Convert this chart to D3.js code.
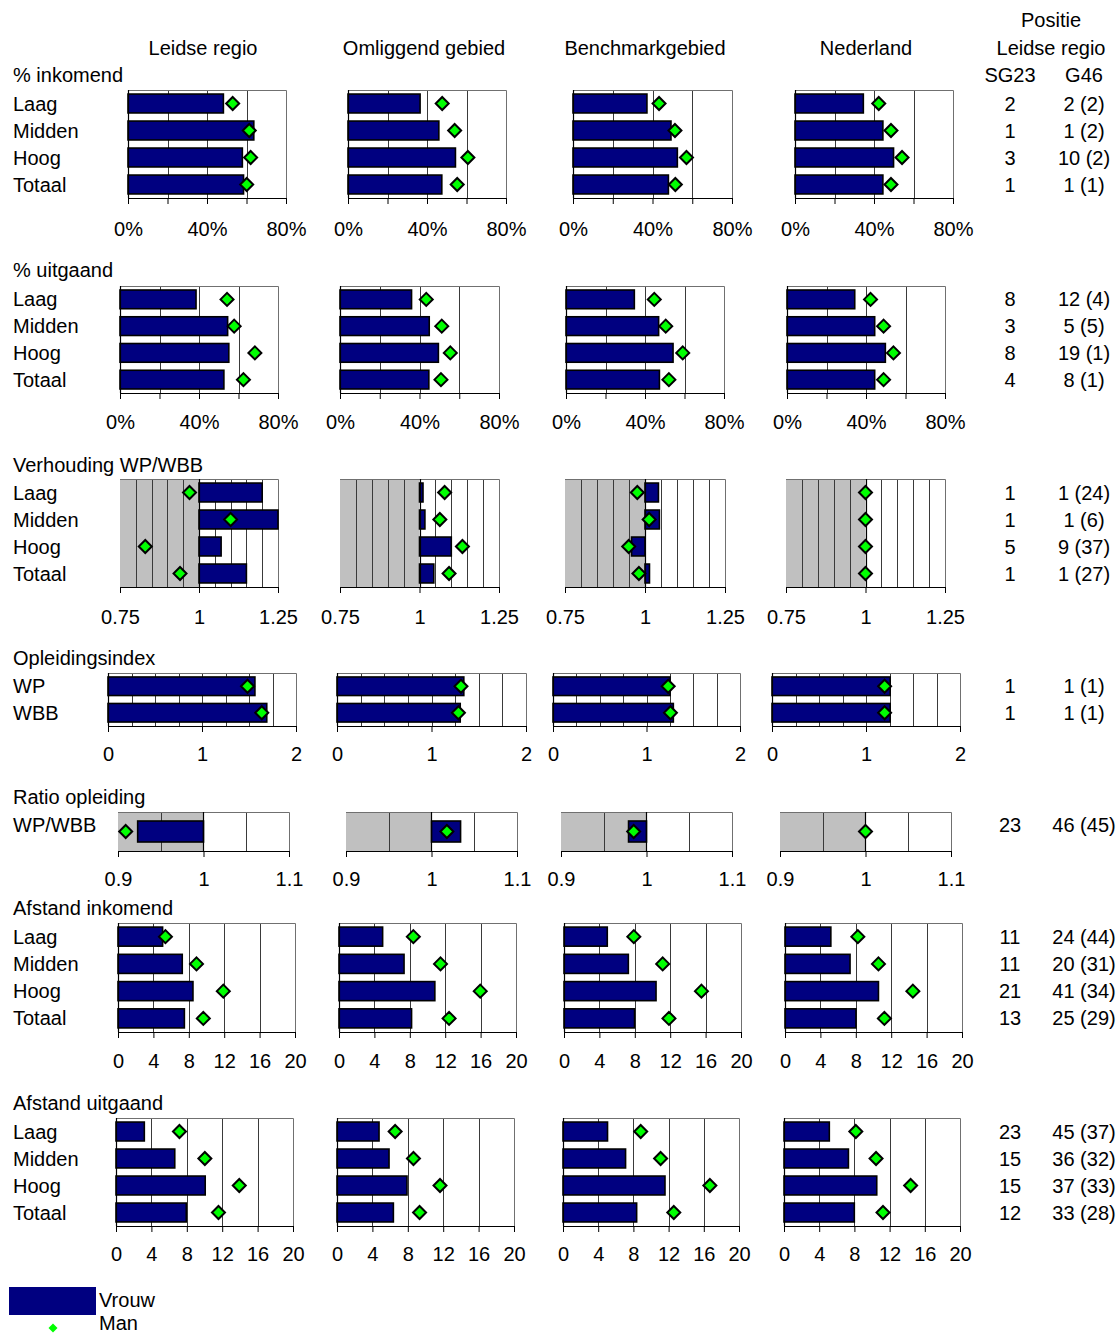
<!DOCTYPE html>
<html><head><meta charset="utf-8">
<script src="https://cdn.jsdelivr.net/npm/d3@7"></script>
<style>
body{margin:0;background:#fff}
svg text{font-family:Arial,"Liberation Sans",sans-serif;font-size:20px;fill:#000}
</style>
</head><body><svg id="c" width="1119" height="1335"></svg>
<script>
// ---------- DATA ----------
const panelNames = ["Leidse regio","Omliggend gebied","Benchmarkgebied","Nederland"];
const levelCats = ["Laag","Midden","Hoog","Totaal"];
const indexCats = ["WP","WBB"];
const ratioCats = ["WP/WBB"];

const inkomendVrouw = [[48.3,63.7,57.9,58.5],[36.5,46.0,54.4,47.5],[37.2,49.3,52.5,48.0],[34.6,44.5,49.9,44.5]];
const inkomendMan   = [[53.0,61.4,62.1,60.1],[47.7,54.0,60.7,55.3],[43.3,51.3,57.1,51.5],[42.4,48.6,54.2,48.6]];
const uitgaandVrouw = [[38.5,54.5,55.1,52.6],[36.0,44.9,49.5,44.7],[34.6,46.9,54.2,47.3],[34.3,44.4,49.8,44.4]];
const uitgaandMan   = [[54.2,57.8,68.3,62.5],[43.4,51.2,55.5,50.8],[44.7,50.5,59.1,52.1],[42.3,48.9,53.9,48.9]];
const verhoudingVrouw = [[1.20,1.25,1.07,1.15],[1.011,1.017,1.10,1.045],[1.042,1.045,0.958,1.014],[1,1,1,1]];
const verhoudingMan   = [[0.97,1.10,0.83,0.94],[1.079,1.064,1.135,1.093],[0.976,1.013,0.949,0.981],[1,1,1,1]];
const opleidingVrouw = [[1.563,1.689],[1.342,1.304],[1.252,1.287],[1.257,1.257]];
const opleidingMan   = [[1.484,1.636],[1.312,1.285],[1.232,1.256],[1.198,1.198]];
const ratioVrouw = [[0.923],[1.034],[0.979],[1.0]];
const ratioMan   = [[0.909],[1.018],[0.985],[1.0]];
const afstandInVrouw = [[5.04,7.26,8.47,7.5],[4.93,7.35,10.83,8.2],[4.89,7.27,10.4,7.97],[5.18,7.35,10.56,8.02]];
const afstandInMan   = [[5.36,8.87,11.9,9.64],[8.4,11.47,15.96,12.44],[7.89,11.15,15.53,11.86],[8.23,10.56,14.45,11.23]];
const afstandUitVrouw = [[3.2,6.64,10.08,7.94],[4.75,5.88,7.91,6.37],[5.06,7.11,11.59,8.37],[5.15,7.32,10.54,7.99]];
const afstandUitMan   = [[7.17,10.04,13.93,11.58],[6.57,8.64,11.64,9.33],[8.83,11.09,16.69,12.59],[8.16,10.46,14.39,11.25]];

const inkomendSG23 = ["2","1","3","1"],   inkomendG46 = ["2 (2)","1 (2)","10 (2)","1 (1)"];
const uitgaandSG23 = ["8","3","8","4"],   uitgaandG46 = ["12 (4)","5 (5)","19 (1)","8 (1)"];
const verhoudingSG23 = ["1","1","5","1"], verhoudingG46 = ["1 (24)","1 (6)","9 (37)","1 (27)"];
const opleidingSG23 = ["1","1"],          opleidingG46 = ["1 (1)","1 (1)"];
const ratioSG23 = ["23"],                 ratioG46 = ["46 (45)"];
const afstandInSG23 = ["11","11","21","13"],  afstandInG46 = ["24 (44)","20 (31)","41 (34)","25 (29)"];
const afstandUitSG23 = ["23","15","15","12"], afstandUitG46 = ["45 (37)","36 (32)","37 (33)","33 (28)"];

const pctTicks = [0,20,40,60,80], pctLabels = [0,40,80], pctGrid = [20,40,60];
const verhTicks = [0.75,1,1.25], verhGrid = [0.8,0.85,0.9,0.95,1,1.05,1.1,1.15,1.2];
const oplTicks = [0,1,2], oplGrid = [0.25,0.5,0.75,1,1.25,1.5,1.75];
const ratioTicks = [0.9,1,1.1], ratioGrid = [0.95,1,1.05];
const kmTicks = [0,4,8,12,16,20], kmGrid = [4,8,12,16];

// ---------- LAYOUT ----------
const sections = [
 {label:"% inkomend", cats:levelCats, vrouw:inkomendVrouw, man:inkomendMan, sg:inkomendSG23, g:inkomendG46,
  domain:[0,80], ticks:pctTicks, labels:pctLabels, grid:pctGrid, fmt:d=>d+"%", base:0,
  xs:[[128,286],[348,506],[573,732],[795,953]], top:90, bottom:198, labelY:75, tp:18},
 {label:"% uitgaand", cats:levelCats, vrouw:uitgaandVrouw, man:uitgaandMan, sg:uitgaandSG23, g:uitgaandG46,
  domain:[0,80], ticks:pctTicks, labels:pctLabels, grid:pctGrid, fmt:d=>d+"%", base:0,
  xs:[[120,278],[340,499],[566,724],[787,945]], top:286, bottom:393, labelY:270, tp:16},
 {label:"Verhouding WP/WBB", cats:levelCats, vrouw:verhoudingVrouw, man:verhoudingMan, sg:verhoudingSG23, g:verhoudingG46,
  domain:[0.75,1.25], ticks:verhTicks, labels:verhTicks, grid:verhGrid, fmt:d=>String(d), base:1, shade:[0.75,1],
  xs:[[120,278],[340,499],[565,725],[786,945]], top:479, bottom:587, labelY:465, tp:17},
 {label:"Opleidingsindex", cats:indexCats, vrouw:opleidingVrouw, man:opleidingMan, sg:opleidingSG23, g:opleidingG46,
  domain:[0,2], ticks:oplTicks, labels:oplTicks, grid:oplGrid, fmt:d=>String(d), base:0,
  xs:[[108,296],[337,526],[553,740],[772,960]], top:673, bottom:726, labelY:658, tp:15},
 {label:"Ratio opleiding", cats:ratioCats, vrouw:ratioVrouw, man:ratioMan, sg:ratioSG23, g:ratioG46,
  domain:[0.9,1.1], ticks:ratioTicks, labels:ratioTicks, grid:ratioGrid, fmt:d=>String(d), base:1, shade:[0.9,1],
  xs:[[118,289],[346,517],[561,732],[780,951]], top:812, bottom:851, labelY:797, pad:[0.3,0.3], textY:825, tp:15},
 {label:"Afstand inkomend", cats:levelCats, vrouw:afstandInVrouw, man:afstandInMan, sg:afstandInSG23, g:afstandInG46,
  domain:[0,20], ticks:kmTicks, labels:kmTicks, grid:kmGrid, fmt:d=>String(d), base:0,
  xs:[[118,295],[339,516],[564,741],[785,962]], top:923, bottom:1032, labelY:908, tp:16},
 {label:"Afstand uitgaand", cats:levelCats, vrouw:afstandUitVrouw, man:afstandUitMan, sg:afstandUitSG23, g:afstandUitG46,
  domain:[0,20], ticks:kmTicks, labels:kmTicks, grid:kmGrid, fmt:d=>String(d), base:0,
  xs:[[116,293],[337,514],[563,739],[784,960]], top:1118, bottom:1226, labelY:1103, tp:15}
];

const NAVY = "#000080", GREEN = "#00FF00", GRAY = "#C0C0C0";
const svg = d3.select("#c");
const TXT = 7; // baseline offset from visual centre
const diamond = s => `M0,${-s}L${s},0L0,${s}L${-s},0Z`;

// headers
const headerX = [203,424,645,866];
panelNames.forEach((n,i)=> svg.append("text").attr("x",headerX[i]).attr("y",48+TXT).attr("text-anchor","middle").text(n));
svg.append("text").attr("x",1051).attr("y",20+TXT).attr("text-anchor","middle").text("Positie");
svg.append("text").attr("x",1051).attr("y",48+TXT).attr("text-anchor","middle").text("Leidse regio");
svg.append("text").attr("x",1010).attr("y",75+TXT).attr("text-anchor","middle").text("SG23");
svg.append("text").attr("x",1084).attr("y",75+TXT).attr("text-anchor","middle").text("G46");

sections.forEach(sec => {
  svg.append("text").attr("x",13).attr("y",sec.labelY+TXT).text(sec.label);
  const pad = sec.pad || [0.3,0.15];
  const y = d3.scaleBand().domain(sec.cats).range([sec.top, sec.bottom]).paddingInner(pad[0]).paddingOuter(pad[1]);
  const yc = c => y(c) + y.bandwidth()/2;
  const ty = c => (sec.textY !== undefined ? sec.textY : yc(c)) + TXT;
  // category labels
  sec.cats.forEach(c => svg.append("text").attr("x",13).attr("y",ty(c)).text(c));
  // ranks
  sec.cats.forEach((c,i) => {
    svg.append("text").attr("x",1010).attr("y",ty(c)).attr("text-anchor","middle").text(sec.sg[i]);
    svg.append("text").attr("x",1084).attr("y",ty(c)).attr("text-anchor","middle").text(sec.g[i]);
  });

  sec.xs.forEach((range,p) => {
    const x = d3.scaleLinear().domain(sec.domain).range(range);
    const g = svg.append("g");
    const [x0,x1] = range;
    if (sec.shade) g.append("rect").attr("x",x(sec.shade[0])).attr("y",sec.top)
        .attr("width",x(sec.shade[1])-x(sec.shade[0])).attr("height",sec.bottom-sec.top).attr("fill",GRAY);
    g.selectAll("line.grid").data(sec.grid).join("line").attr("class","grid")
      .attr("x1",d=>Math.round(x(d))+0.5).attr("x2",d=>Math.round(x(d))+0.5)
      .attr("y1",sec.top).attr("y2",sec.bottom).attr("stroke","#3a3a3a").attr("stroke-width",1);
    // plot border (top & right)
    g.append("path").attr("d",`M${x0},${sec.top+0.5}H${x1+0.5}V${sec.bottom}`)
      .attr("fill","none").attr("stroke","#707070").attr("stroke-width",1);
    // bars (Vrouw)
    const vals = sec.vrouw[p], mans = sec.man[p];
    g.selectAll("rect.bar").data(sec.cats.map((c,i)=>({c,v:vals[i]})).filter(d=>Math.abs(d.v-sec.base)>1e-9))
      .join("rect").attr("class","bar")
      .attr("x",d=>Math.min(x(sec.base),x(d.v))).attr("width",d=>Math.abs(x(d.v)-x(sec.base)))
      .attr("y",d=>y(d.c)).attr("height",y.bandwidth())
      .attr("fill",NAVY).attr("stroke","#000").attr("stroke-width",1.6);
    // value axis
    const ax = d3.axisBottom(x).tickValues(sec.ticks).tickSize(6).tickPadding(sec.tp)
      .tickFormat(d => sec.labels.some(l=>Math.abs(l-d)<1e-9) ? sec.fmt(d) : "");
    const axg = g.append("g").attr("transform",`translate(0,${sec.bottom})`).call(ax);
    axg.select(".domain").attr("stroke","#000").attr("d",`M${x0},0.5H${x1}`);
    axg.selectAll(".tick line").attr("stroke","#000");
    axg.selectAll(".tick text").style("font-size","20px").style("font-family","Arial, 'Liberation Sans', sans-serif").attr("fill","#000");
    // category axis line at base
    g.append("line").attr("x1",Math.round(x(sec.base))+0.5).attr("x2",Math.round(x(sec.base))+0.5)
      .attr("y1",sec.top).attr("y2",sec.bottom).attr("stroke","#000").attr("stroke-width",1.2);
    // diamonds (Man)
    g.selectAll("path.man").data(sec.cats.map((c,i)=>({c,v:mans[i]}))).join("path").attr("class","man")
      .attr("d",diamond(6.5)).attr("transform",d=>`translate(${x(d.v)},${yc(d.c)})`)
      .attr("fill",GREEN).attr("stroke","#000").attr("stroke-width",2);
  });
});

// legend
svg.append("rect").attr("x",9).attr("y",1287).attr("width",87).attr("height",28).attr("fill",NAVY);
svg.append("text").attr("x",99).attr("y",1300+TXT).text("Vrouw");
svg.append("path").attr("d",diamond(4.5)).attr("transform","translate(53,1328)").attr("fill",GREEN);
svg.append("text").attr("x",99).attr("y",1330).text("Man");
</script></body></html>
